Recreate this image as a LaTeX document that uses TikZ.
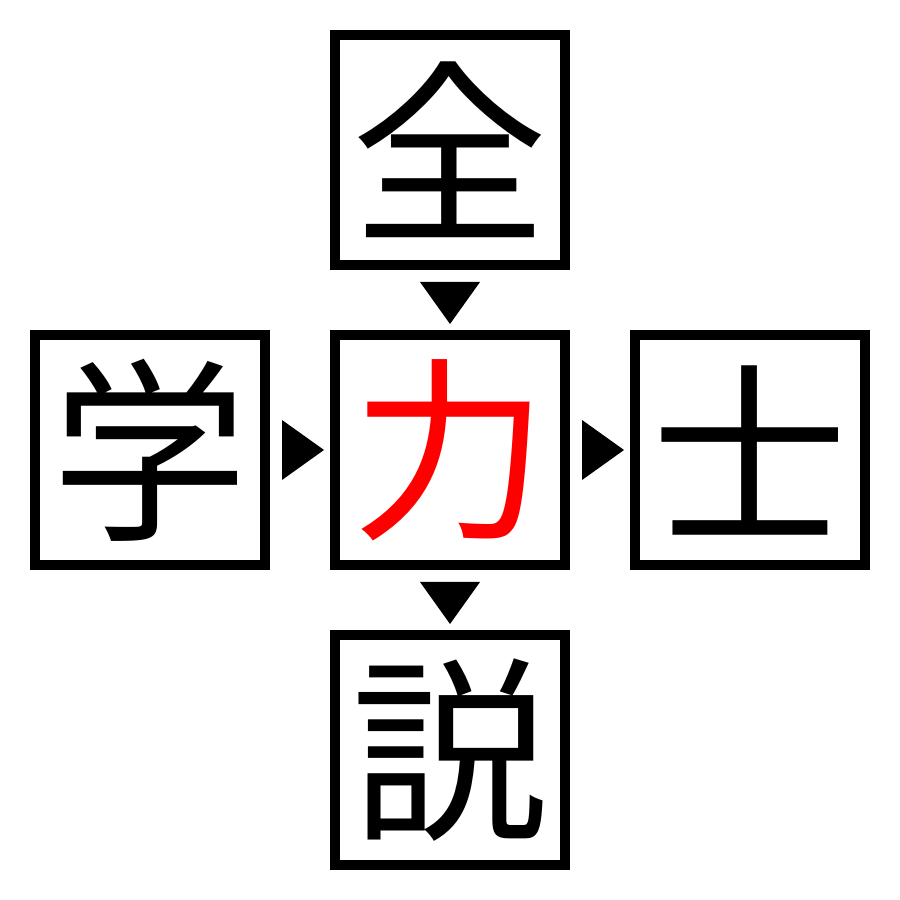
\documentclass[tikz,border=0pt]{standalone}
\usepackage{fontspec}
\newfontfamily\jpfont{Noto Sans CJK JP}
\usetikzlibrary{positioning,calc}
\tikzset{
  kanji/.style = {shape=rectangle, draw, line width=1mm,
                  minimum size=23mm, inner sep=0pt,
                  font=\jpfont\fontsize{56}{56}\selectfont},
  answer/.style = {kanji, text=red},
  marker/.style = {fill=black, draw=none}
}
\begin{document}
\begin{tikzpicture}
  \useasboundingbox (0,0) rectangle (9,9);

  \node[answer] (mid) at (4.5,4.5) {力};
  \node[kanji, above=6mm of mid] (top) {全};
  \node[kanji, below=6mm of mid] (bot) {説};
  \node[kanji, left=6mm of mid] (left) {学};
  \node[kanji, right=6mm of mid] (right) {士};

  % down pointers
  \fill[marker] ($(top.south)!.5!(mid.north)$) ++(-0.3,0.18) -- ++(0.6,0) -- ++(-0.3,-0.42) -- cycle;
  \fill[marker] ($(mid.south)!.5!(bot.north)$) ++(-0.3,0.18) -- ++(0.6,0) -- ++(-0.3,-0.42) -- cycle;
  % right pointers
  \fill[marker] ($(left.east)!.5!(mid.west)$) ++(-0.18,0.3) -- ++(0,-0.6) -- ++(0.42,0.3) -- cycle;
  \fill[marker] ($(mid.east)!.5!(right.west)$) ++(-0.18,0.3) -- ++(0,-0.6) -- ++(0.42,0.3) -- cycle;
\end{tikzpicture}
\end{document}
